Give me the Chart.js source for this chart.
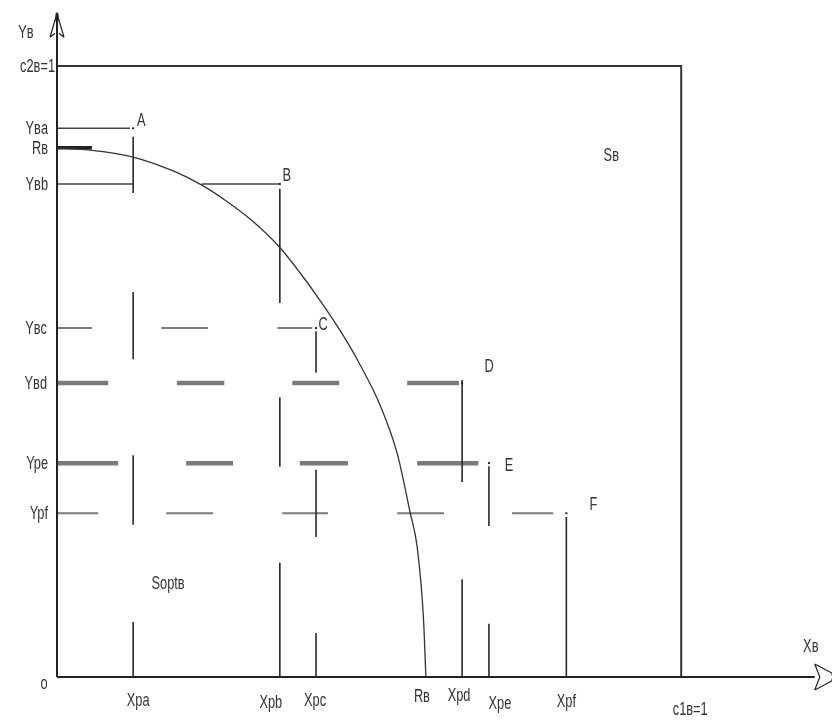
<!DOCTYPE html>
<html>
<head>
<meta charset="utf-8">
<title>Sopt diagram</title>
<script src="https://cdn.jsdelivr.net/npm/chart.js@4.4.1/dist/chart.umd.min.js"></script>
<style>
  html, body { margin: 0; padding: 0; background: #fff; }
  #wrap { width: 832px; height: 720px; }
</style>
</head>
<body>
<div id="wrap"><canvas id="chart" width="832" height="720"></canvas></div>
<script>
/* ===== Data (normalised units) ===== */
const xTickVals   = [0.122, 0.357, 0.415, 0.591, 0.649, 0.692, 0.816, 1];
const xTickLabels = ['Xpa', 'Xpb', 'Xpc', 'Rʙ', 'Xpd', 'Xpe', 'Xpf', 'c1ʙ=1'];
const yTickVals   = [1, 0.898, 0.866, 0.807, 0.571, 0.481, 0.350, 0.268];
const yTickLabels = ['c2ʙ=1', 'Yʙa', 'Rʙ', 'Yʙb', 'Yʙc', 'Yʙd', 'Ype', 'Ypf'];

const pointNames = ['A', 'B', 'C', 'D', 'E', 'F'];
const pointX = [0.122, 0.357, 0.415, 0.649, 0.692, 0.816];
const pointY = [0.898, 0.807, 0.571, 0.481, 0.350, 0.268];

// boundary curve Rʙ (x, y)
const curveX = [0, 0.056, 0.122, 0.189, 0.232, 0.270, 0.310, 0.357, 0.389, 0.421, 0.453, 0.484, 0.518, 0.545, 0.566, 0.577, 0.587, 0.591];
const curveY = [0.866, 0.862, 0.851, 0.827, 0.805, 0.780, 0.749, 0.703, 0.662, 0.617, 0.568, 0.514, 0.444, 0.366, 0.268, 0.213, 0.098, 0];
const curveThick = [0, 0.056];

// dashed verticals: [from y, to y] pieces at each point's x
const vSegsA = [[0.884, 0.792], [0.630, 0.520], [0.363, 0.249], [0.090, 0]];
const vSegsB = [[0.799, 0.612], [0.458, 0.344], [0.187, 0]];
const vSegsC = [[0.566, 0.498], [0.339, 0.229], [0.072, 0]];
const vSegsD = [[0.486, 0.319], [0.160, 0]];
const vSegsE = [[0.345, 0.247], [0.087, 0]];
const vSegsF = [[0.262, 0]];

// dashed horizontals: [from x, to x] pieces at each point's y
const hSegsA = [[0, 0.117]];
const hSegsB = [[0, 0.122], [0.232, 0.357]];
const hSegsC = [[0, 0.056], [0.167, 0.242], [0.353, 0.409]];
const hSegsD = [[0, 0.082], [0.192, 0.268], [0.377, 0.452], [0.561, 0.644]];
const hSegsE = [[0, 0.098], [0.207, 0.282], [0.389, 0.466], [0.577, 0.675]];
const hSegsF = [[0, 0.066], [0.175, 0.250], [0.361, 0.434], [0.545, 0.620], [0.729, 0.795]];

/* ===== helpers ===== */
function vData(xv, segs) {
  const d = [];
  segs.forEach(([a, b]) => d.push({ x: xv, y: a }, { x: xv, y: b }, { x: xv, y: null }));
  return d;
}
function hData(yv, segs) {
  const d = [];
  segs.forEach(([a, b]) => d.push({ x: a, y: yv }, { x: b, y: yv }, { x: b, y: null }));
  return d;
}
function line(data, color, width, extra) {
  return Object.assign({
    type: 'line', data, borderColor: color, borderWidth: width,
    pointRadius: 0, fill: false, spanGaps: false, clip: false, tension: 0
  }, extra || {});
}

const DARK = '#2a2a2a';
const GREY = '#7a7a7a';
const FONT = "16px 'Liberation Sans', 'DejaVu Sans', sans-serif";

const datasets = [
  // frame: c2ʙ=1 top edge and c1ʙ=1 right edge
  line([{ x: 0, y: 1 }, { x: 1, y: 1 }, { x: 1, y: 0 }], '#333', 2),
  // boundary curve
  line(curveX.map((x, i) => ({ x, y: curveY[i] })), '#333', 1.3, { cubicInterpolationMode: 'monotone' }),
  line(curveThick.map(x => ({ x, y: curveY[0] })), '#222', 3.5),
  // verticals
  line(vData(pointX[0], vSegsA), DARK, 1.6),
  line(vData(pointX[1], vSegsB), DARK, 1.6),
  line(vData(pointX[2], vSegsC), DARK, 1.6),
  line(vData(pointX[3], vSegsD), DARK, 1.6),
  line(vData(pointX[4], vSegsE), DARK, 1.6),
  line(vData(pointX[5], vSegsF), DARK, 1.6),
  // horizontals
  line(hData(pointY[0], hSegsA), '#444', 1.5),
  line(hData(pointY[1], hSegsB), '#444', 1.5),
  line(hData(pointY[2], hSegsC), GREY, 2),
  line(hData(pointY[3], hSegsD), GREY, 4.5),
  line(hData(pointY[4], hSegsE), GREY, 4.5),
  line(hData(pointY[5], hSegsF), GREY, 2)
];

/* ===== axes, arrows and text ===== */
const diagramPlugin = {
  id: 'diagram',
  afterDatasetsDraw(chart) {
    const ctx = chart.ctx;
    const X = v => chart.scales.x.getPixelForValue(v);
    const Y = v => chart.scales.y.getPixelForValue(v);
    const x0 = X(0), y0 = Y(0);
    const xEnd = X(1.214), yEnd = Y(1.083);

    ctx.save();
    ctx.strokeStyle = '#222';
    ctx.lineWidth = 2;
    ctx.beginPath();
    ctx.moveTo(x0, y0); ctx.lineTo(xEnd, y0);
    ctx.moveTo(x0, y0); ctx.lineTo(x0, yEnd);
    ctx.stroke();

    // y arrow (open)
    ctx.lineWidth = 1.2;
    ctx.beginPath();
    ctx.moveTo(x0 - 7, yEnd + 22); ctx.lineTo(x0, yEnd - 2); ctx.lineTo(x0 + 7, yEnd + 22);
    ctx.moveTo(x0 - 7, yEnd + 22); ctx.lineTo(x0 - 2, yEnd + 18);
    ctx.moveTo(x0 + 7, yEnd + 22); ctx.lineTo(x0 + 2, yEnd + 18);
    ctx.stroke();
    ctx.lineWidth = 3;
    ctx.beginPath(); ctx.moveTo(x0, yEnd - 2); ctx.lineTo(x0, yEnd + 6); ctx.stroke();

    // x arrow (open)
    ctx.lineWidth = 1.2;
    ctx.beginPath();
    ctx.moveTo(xEnd, y0 - 13); ctx.lineTo(xEnd + 17, y0 - 4); ctx.lineTo(xEnd + 18, y0);
    ctx.lineTo(xEnd + 17, y0 + 4); ctx.lineTo(xEnd, y0 + 13);
    ctx.moveTo(xEnd, y0 - 13); ctx.lineTo(xEnd + 5, y0);
    ctx.lineTo(xEnd, y0 + 13);
    ctx.stroke();

    // point dots
    ctx.fillStyle = '#222';
    pointX.forEach((px, i) => {
      ctx.fillRect(X(px) - 1, Y(pointY[i]) - 1, 2, 2);
    });

    // text, drawn condensed and tall like the original
    ctx.fillStyle = '#333';
    ctx.font = FONT;
    ctx.textBaseline = 'middle';
    function txt(s, px, py, align) {
      ctx.save();
      ctx.translate(px, py);
      ctx.scale(0.8, 1.15);
      ctx.textAlign = align || 'center';
      ctx.fillText(s, 0, 0);
      ctx.restore();
    }

    const yLabDx = [-2, -9, -9, -9, -10, -10, -9, -9];
    yTickVals.forEach((v, i) => txt(yTickLabels[i], x0 + yLabDx[i], Y(v) + 1, 'right'));

    const xLabDx = [5, -9, -1, -4, -3, 11, 0, 9];
    const xLabDy = [24, 26, 24, 20, 19, 27, 25, 33];
    xTickVals.forEach((v, i) => txt(xTickLabels[i], X(v) + xLabDx[i], y0 + xLabDy[i]));

    const nameDx = [8, 7, 7, 27, 20, 27];
    const nameDy = [-7, -8, -3, -16, 3, -8];
    pointNames.forEach((n, i) => txt(n, X(pointX[i]) + nameDx[i], Y(pointY[i]) + nameDy[i]));

    txt('o', x0 - 13, y0 + 7);
    txt('Yʙ', x0 - 31, yEnd + 18);
    txt('Xʙ', xEnd - 4, y0 - 30);
    txt('Sʙ', X(0.888), Y(0.852));
    txt('Soptʙ', X(0.178), Y(0.152));
    ctx.restore();
  }
};

new Chart(document.getElementById('chart'), {
  type: 'line',
  data: { datasets },
  options: {
    responsive: false,
    animation: false,
    devicePixelRatio: 1,
    layout: { padding: { left: 57, right: 1, top: 0, bottom: 43 } },
    scales: {
      x: { type: 'linear', min: 0, max: 1.240, display: false },
      y: { type: 'linear', min: 0, max: 1.108, display: false }
    },
    plugins: { legend: { display: false }, tooltip: { enabled: false } }
  },
  plugins: [diagramPlugin]
});
</script>
</body>
</html>
